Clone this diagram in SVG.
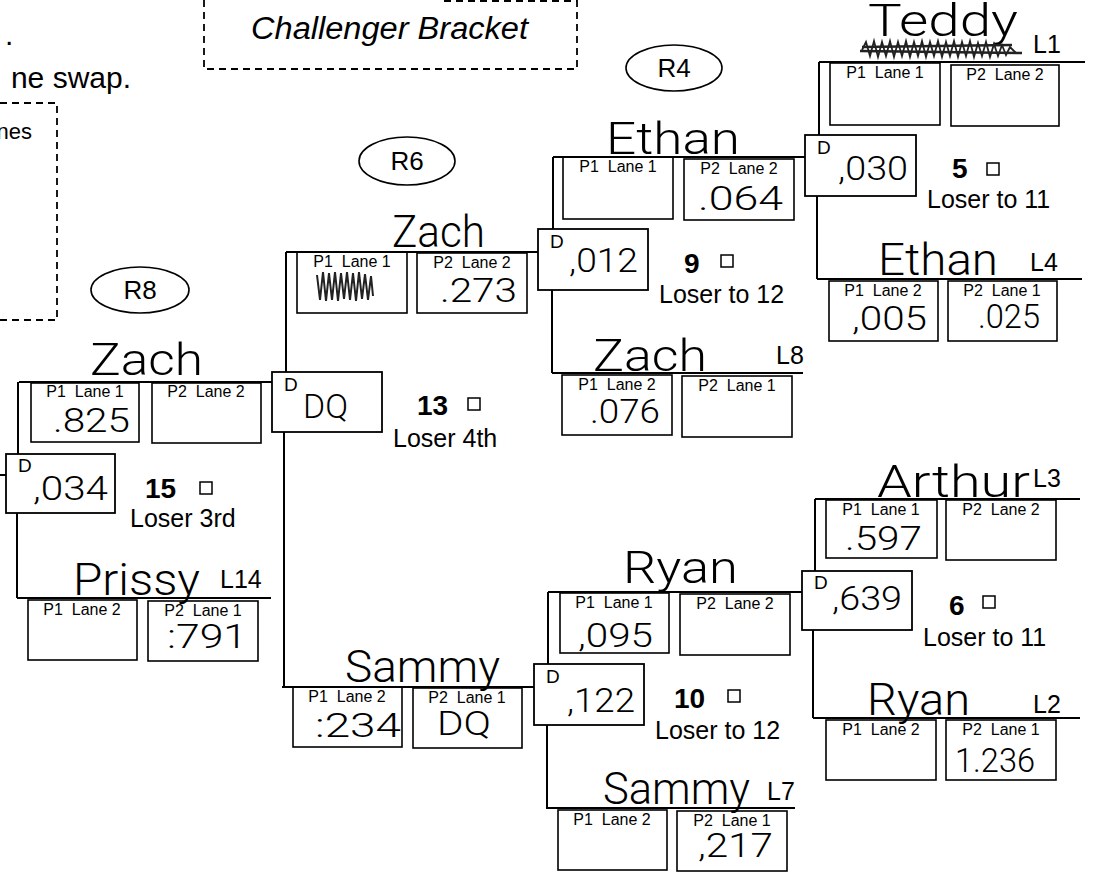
<svg xmlns="http://www.w3.org/2000/svg" width="1096" height="877" viewBox="0 0 1096 877">
<style>
.ln{stroke:#000;stroke-width:2;fill:none}
.bx{fill:none;stroke:#000;stroke-width:1.6}
.db{fill:#fff;stroke:#000;stroke-width:1.8}
.dash{fill:none;stroke:#000;stroke-width:1.8;stroke-dasharray:7 5}
.el{fill:none;stroke:#000;stroke-width:1.6}
.sq{fill:#fff;stroke:#000;stroke-width:1.5}
.lbl{font-family:"Liberation Sans",Arial,sans-serif;font-size:16px;text-anchor:middle;fill:#000}
.d{font-family:"Liberation Sans",Arial,sans-serif;font-size:19px;fill:#000}
.num{font-family:"Liberation Sans",Arial,sans-serif;font-size:28px;font-weight:bold;fill:#000}
.los{font-family:"Liberation Sans",Arial,sans-serif;font-size:25px;fill:#000}
.rd{font-family:"Liberation Sans",Arial,sans-serif;font-size:26px;text-anchor:middle;fill:#000}
.hw{font-family:Roboto,Inter,"Liberation Sans",sans-serif;font-weight:300;font-size:45px;fill:#000}
.hn{font-family:Roboto,Inter,"Liberation Sans",sans-serif;font-weight:300;font-size:34px;fill:#000}
.scr{fill:none;stroke:#222;stroke-width:1.5}
.big{font-family:"Liberation Sans",Arial,sans-serif;font-size:30px;fill:#000}
</style>

<g id="note-left">
<text class="big" x="5" y="45">.</text>
<text class="big" x="131" y="88" text-anchor="end">ne swap.</text>
<path class="dash" d="M0 103 H57 V320 H0"/>
<text class="big" x="32" y="139" text-anchor="end" style="font-size:22px">nes</text>
</g>

<g id="title">
<path class="dash" d="M204 0 V69 H577 V1 H440"/>
<text x="251" y="39" font-family="Liberation Sans, Arial, sans-serif" font-style="italic" font-size="31" textLength="277" lengthAdjust="spacingAndGlyphs">Challenger Bracket</text>
</g>

<g id="round-R4"><ellipse class="el" cx="674" cy="68" rx="48" ry="23"/><text class="rd" x="674" y="77">R4</text></g>
<g id="round-R6"><ellipse class="el" cx="407" cy="161" rx="48" ry="24"/><text class="rd" x="407" y="170">R6</text></g>
<g id="round-R8"><ellipse class="el" cx="140" cy="290" rx="49" ry="23"/><text class="rd" x="140" y="299">R8</text></g>

<g id="connectors">
<path class="ln" d="M819 62 H1085 M819 62 V135 M817 196 V279 M817 279 H1082"/>
<path class="ln" d="M553 157 H805 M553 157 V229 M552 290 V373 M552 373 H803"/>
<path class="ln" d="M286 252 H538 M286 252 V372 M284 432 V687 M282 687 H534"/>
<path class="ln" d="M815 499 H1080 M815 499 V571 M813 630 V718 M813 718 H1080"/>
<path class="ln" d="M548 592 H802 M548 592 V664 M547 725 V808 M546 808 H795"/>
<path class="ln" d="M19 382 H272 M18 382 V454 M17 513 V598 M17 598 H271 M0 475 H6"/>
</g>

<!-- Match 5 -->
<g id="m5-top">
<text class="hw" x="868" y="36" textLength="150" lengthAdjust="spacingAndGlyphs">Teddy</text>
<polyline class="scr" points="862,50 866,42 870,56 874,41 878,57 882,42 886,56 890,41 894,57 898,42 902,56 906,41 910,57 914,42 918,56 922,41 926,57 930,42 934,56 938,41 942,57 946,42 950,56 954,41 958,57 962,42 966,56 970,41 974,57 978,43 982,56 986,42 990,57 994,44 998,56 1002,45 1006,55 1010,47 1016,53" style="stroke-width:1.8"/>
<path class="scr" d="M860 51 L1022 53 M862 47 L1012 45" style="stroke-width:2.5"/>
<text class="los" x="1033" y="53">L1</text>
<rect class="bx" x="830" y="63" width="110" height="62"/>
<text class="lbl" x="885" y="78">P1<tspan dx="9">Lane 1</tspan></text>
<rect class="bx" x="951" y="65" width="108" height="61"/>
<text class="lbl" x="1005" y="80">P2<tspan dx="9">Lane 2</tspan></text>
</g>
<g id="m5-result">
<rect class="db" x="805" y="135" width="111" height="61"/>
<text class="d" x="817" y="154">D</text>
<text class="hn" x="838" y="180" textLength="70" lengthAdjust="spacingAndGlyphs">,030</text>
<text class="num" x="952" y="178">5</text>
<rect class="sq" x="987" y="163" width="12" height="12"/>
<text class="los" x="927" y="208">Loser to 11</text>
</g>
<g id="m5-bottom">
<text class="hw" x="878" y="275" textLength="120" lengthAdjust="spacingAndGlyphs">Ethan</text>
<text class="los" x="1030" y="271">L4</text>
<rect class="bx" x="829" y="281" width="109" height="60"/>
<text class="lbl" x="883" y="296">P1<tspan dx="9">Lane 2</tspan></text>
<text class="hn" x="852" y="330" textLength="75" lengthAdjust="spacingAndGlyphs">,005</text>
<rect class="bx" x="948" y="281" width="109" height="60"/>
<text class="lbl" x="1002" y="296">P2<tspan dx="9">Lane 1</tspan></text>
<text class="hn" x="978" y="328" textLength="62" lengthAdjust="spacingAndGlyphs">.025</text>
</g>

<!-- Match 9 -->
<g id="m9-top">
<text class="hw" x="606" y="154" textLength="134" lengthAdjust="spacingAndGlyphs">Ethan</text>
<rect class="bx" x="563" y="157" width="110" height="62"/>
<text class="lbl" x="618" y="172">P1<tspan dx="9">Lane 1</tspan></text>
<rect class="bx" x="684" y="159" width="110" height="61"/>
<text class="lbl" x="739" y="174">P2<tspan dx="9">Lane 2</tspan></text>
<text class="hn" x="698" y="210" textLength="85" lengthAdjust="spacingAndGlyphs">.064</text>
</g>
<g id="m9-result">
<rect class="db" x="538" y="229" width="110" height="61"/>
<text class="d" x="550" y="248">D</text>
<text class="hn" x="569" y="272" textLength="69" lengthAdjust="spacingAndGlyphs">,012</text>
<text class="num" x="684" y="273">9</text>
<rect class="sq" x="721" y="255" width="12" height="12"/>
<text class="los" x="659" y="303">Loser to 12</text>
</g>
<g id="m9-bottom">
<text class="hw" x="593" y="371" textLength="114" lengthAdjust="spacingAndGlyphs">Zach</text>
<text class="los" x="776" y="364">L8</text>
<rect class="bx" x="562" y="375" width="110" height="60"/>
<text class="lbl" x="617" y="390">P1<tspan dx="9">Lane 2</tspan></text>
<text class="hn" x="590" y="423" textLength="70" lengthAdjust="spacingAndGlyphs">.076</text>
<rect class="bx" x="682" y="376" width="110" height="61"/>
<text class="lbl" x="737" y="391">P2<tspan dx="9">Lane 1</tspan></text>
</g>

<!-- Match 13 -->
<g id="m13-top">
<text class="hw" x="392" y="247" textLength="93" lengthAdjust="spacingAndGlyphs">Zach</text>
<rect class="bx" x="297" y="252" width="110" height="61"/>
<text class="lbl" x="352" y="267">P1<tspan dx="9">Lane 1</tspan></text>
<polyline class="scr" points="317,275 320,300 323,272 326,301 329,273 332,300 335,272 338,301 341,273 344,299 347,272 350,300 353,273 356,301 359,272 362,299 365,274 368,300 371,276 373,296" style="stroke-width:2"/>
<rect class="bx" x="417" y="253" width="110" height="60"/>
<text class="lbl" x="472" y="268">P2<tspan dx="9">Lane 2</tspan></text>
<text class="hn" x="440" y="302" textLength="77" lengthAdjust="spacingAndGlyphs">.273</text>
</g>
<g id="m13-result">
<rect class="db" x="272" y="372" width="110" height="60"/>
<text class="d" x="284" y="391">D</text>
<text class="hn" x="303" y="418" textLength="45" lengthAdjust="spacingAndGlyphs">DQ</text>
<text class="num" x="417" y="415">13</text>
<rect class="sq" x="468" y="398" width="12" height="12"/>
<text class="los" x="393" y="447">Loser 4th</text>
</g>
<g id="m13-bottom">
<text class="hw" x="345" y="682" textLength="155" lengthAdjust="spacingAndGlyphs">Sammy</text>
<rect class="bx" x="293" y="687" width="109" height="60"/>
<text class="lbl" x="347" y="702">P1<tspan dx="9">Lane 2</tspan></text>
<text class="hn" x="315" y="737" textLength="86" lengthAdjust="spacingAndGlyphs">:234</text>
<rect class="bx" x="413" y="688" width="109" height="60"/>
<text class="lbl" x="467" y="703">P2<tspan dx="9">Lane 1</tspan></text>
<text class="hn" x="437" y="735" textLength="54" lengthAdjust="spacingAndGlyphs">DQ</text>
</g>

<!-- Match 15 -->
<g id="m15-top">
<text class="hw" x="90" y="375" textLength="113" lengthAdjust="spacingAndGlyphs">Zach</text>
<rect class="bx" x="31" y="383" width="108" height="59"/>
<text class="lbl" x="85" y="397">P1<tspan dx="9">Lane 1</tspan></text>
<text class="hn" x="53" y="432" textLength="77" lengthAdjust="spacingAndGlyphs">.825</text>
<rect class="bx" x="152" y="383" width="109" height="60"/>
<text class="lbl" x="206" y="397">P2<tspan dx="9">Lane 2</tspan></text>
</g>
<g id="m15-result">
<rect class="db" x="6" y="454" width="109" height="59"/>
<text class="d" x="18" y="472">D</text>
<text class="hn" x="33" y="500" textLength="75" lengthAdjust="spacingAndGlyphs">,034</text>
<text class="num" x="145" y="498">15</text>
<rect class="sq" x="200" y="482" width="12" height="12"/>
<text class="los" x="130" y="527">Loser 3rd</text>
</g>
<g id="m15-bottom">
<text class="hw" x="73" y="595" textLength="127" lengthAdjust="spacingAndGlyphs">Prissy</text>
<text class="los" x="220" y="588">L14</text>
<rect class="bx" x="28" y="600" width="109" height="60"/>
<text class="lbl" x="82" y="615">P1<tspan dx="9">Lane 2</tspan></text>
<rect class="bx" x="148" y="601" width="110" height="60"/>
<text class="lbl" x="203" y="616">P2<tspan dx="9">Lane 1</tspan></text>
<text class="hn" x="167" y="648" textLength="80" lengthAdjust="spacingAndGlyphs">:791</text>
</g>

<!-- Match 10 -->
<g id="m10-top">
<text class="hw" x="623" y="583" textLength="115" lengthAdjust="spacingAndGlyphs">Ryan</text>
<rect class="bx" x="560" y="593" width="109" height="60"/>
<text class="lbl" x="614" y="608">P1<tspan dx="9">Lane 1</tspan></text>
<text class="hn" x="578" y="647" textLength="75" lengthAdjust="spacingAndGlyphs">,095</text>
<rect class="bx" x="680" y="594" width="110" height="61"/>
<text class="lbl" x="735" y="609">P2<tspan dx="9">Lane 2</tspan></text>
</g>
<g id="m10-result">
<rect class="db" x="534" y="664" width="110" height="61"/>
<text class="d" x="546" y="683">D</text>
<text class="hn" x="567" y="712" textLength="68" lengthAdjust="spacingAndGlyphs">,122</text>
<text class="num" x="674" y="708">10</text>
<rect class="sq" x="728" y="690" width="12" height="12"/>
<text class="los" x="655" y="739">Loser to 12</text>
</g>
<g id="m10-bottom">
<text class="hw" x="603" y="804" textLength="147" lengthAdjust="spacingAndGlyphs">Sammy</text>
<text class="los" x="767" y="800">L7</text>
<rect class="bx" x="558" y="810" width="109" height="60"/>
<text class="lbl" x="612" y="825">P1<tspan dx="9">Lane 2</tspan></text>
<rect class="bx" x="677" y="811" width="110" height="60"/>
<text class="lbl" x="732" y="826">P2<tspan dx="9">Lane 1</tspan></text>
<text class="hn" x="698" y="857" textLength="75" lengthAdjust="spacingAndGlyphs">,217</text>
</g>

<!-- Match 6 -->
<g id="m6-top">
<text class="hw" x="877" y="497" textLength="153" lengthAdjust="spacingAndGlyphs">Arthur</text>
<text class="los" x="1033" y="487">L3</text>
<rect class="bx" x="826" y="500" width="111" height="58"/>
<text class="lbl" x="881" y="515">P1<tspan dx="9">Lane 1</tspan></text>
<text class="hn" x="845" y="550" textLength="77" lengthAdjust="spacingAndGlyphs">.597</text>
<rect class="bx" x="946" y="500" width="110" height="60"/>
<text class="lbl" x="1001" y="515">P2<tspan dx="9">Lane 2</tspan></text>
</g>
<g id="m6-result">
<rect class="db" x="802" y="571" width="110" height="59"/>
<text class="d" x="814" y="589">D</text>
<text class="hn" x="832" y="610" textLength="70" lengthAdjust="spacingAndGlyphs">,639</text>
<text class="num" x="949" y="615">6</text>
<rect class="sq" x="983" y="596" width="12" height="12"/>
<text class="los" x="923" y="646">Loser to 11</text>
</g>
<g id="m6-bottom">
<text class="hw" x="867" y="715" textLength="103" lengthAdjust="spacingAndGlyphs">Ryan</text>
<text class="los" x="1033" y="713">L2</text>
<rect class="bx" x="826" y="720" width="110" height="60"/>
<text class="lbl" x="881" y="735">P1<tspan dx="9">Lane 2</tspan></text>
<rect class="bx" x="946" y="720" width="110" height="60"/>
<text class="lbl" x="1001" y="735">P2<tspan dx="9">Lane 1</tspan></text>
<text class="hn" x="955" y="772" textLength="80" lengthAdjust="spacingAndGlyphs">1.236</text>
</g>
</svg>
